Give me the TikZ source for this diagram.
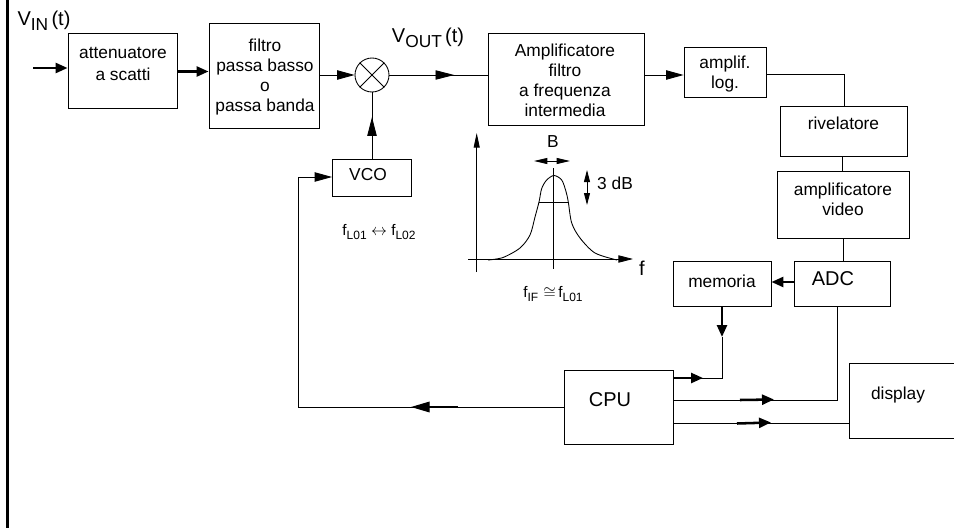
\documentclass[tikz,border=0pt]{standalone}
\usepackage{fontspec}
\setmainfont{Liberation Sans}
\usetikzlibrary{calc,positioning,arrows.meta,shapes,decorations.markings}
\newcommand{\biglabel}[2]{#1\raisebox{-.45ex}{\fontsize{13pt}{13pt}\selectfont #2}\,(t)}
\newcommand{\freqlabel}[1]{f\raisebox{-.4ex}{\fontsize{9pt}{9pt}\selectfont #1}}
\tikzset{
        blockbox/.style 2 args={draw=black, line width=0.65pt, inner sep=0pt,
                minimum width=#1*0.75pt, minimum height=#2*0.75pt},
        textlabel/.style={inner sep=0pt, align=center, font=\fontsize{13pt}{15pt}\selectfont},
        widelabel/.style={inner sep=0pt, align=center, font=\fontsize{13pt}{16pt}\selectfont},
        biglabeltext/.style={inner sep=0pt, font=\fontsize{15pt}{15pt}\selectfont},
        smalllabel/.style={inner sep=0pt, font=\fontsize{11.5pt}{12pt}\selectfont},
        thinline/.style={line width=0.65pt},
        thickline/.style={line width=1.9pt},
        bigtip/.style={-{Triangle[length=13pt,width=7pt]}},
        smalltip/.style={-{Triangle[length=9pt,width=7.5pt]}},
        midtip/.style={postaction={decorate}, decoration={markings,
                mark=at position #1 with {\arrow{Triangle[length=14pt,width=7pt]}}}}
}
\begin{document}
\begin{tikzpicture}[x=0.75pt, y=-0.75pt]
        \useasboundingbox (0,0) rectangle (954,528);
        \draw[line width=2pt] (7.5,0) -- (7.5,528);

        \node[blockbox={109}{75}] (atten) at (122.5,70.5) {};
        \node[widelabel] (attentext) at (123,64) {attenuatore\\a scatti};
        \node[blockbox={110}{105}] (filtro) at (264,75.5) {};
        \node[textlabel] (filtrotext) at (265,77) {filtro\\passa basso\\o\\passa banda};
        \node[draw=black, line width=0.65pt, circle, minimum size=25.5pt, inner sep=0pt] (mixer) at (372,75) {};
        \draw[thinline] (mixer.north west) -- (mixer.south east);
        \draw[thinline] (mixer.north east) -- (mixer.south west);
        \node[blockbox={79}{37}] (vco) at (372,178) {};
        \node[textlabel] (vcotext) at (368,175) {VCO};
        \node[blockbox={156}{92}] (amp) at (566,79) {};
        \node[textlabel] (amptext) at (565,80.5) {Amplificatore\\filtro\\a frequenza\\intermedia};
        \node[blockbox={82}{50}] (logamp) at (725,72.5) {};
        \node[textlabel] (logtext) at (725,74.5) {amplif.\\log.};
        \node[blockbox={127}{50}] (riv) at (843.5,131.5) {};
        \node[textlabel] (rivtext) at (843.5,123) {rivelatore};
        \node[blockbox={132}{67}] (video) at (843,204.5) {};
        \node[textlabel] (videotext) at (843,199) {amplificatore\\video};
        \node[blockbox={96}{45}] (adc) at (842,284) {};
        \node[biglabeltext] (adctext) at (833,279) {ADC};
        \node[blockbox={98}{45}] (memoria) at (722,284) {};
        \node[textlabel] (memtext) at (722,281) {memoria};
        \node[blockbox={109}{74}] (cpu) at (618.5,407) {};
        \node[biglabeltext] (cputext) at (610,400) {CPU};
        \node[blockbox={125}{75}] (disp) at (911.5,400.5) {};
        \node[textlabel] (disptext) at (898,395) {display};

        \node[biglabeltext] (vin) at (44,21) {\biglabel{V}{IN}};
        \node[biglabeltext] (vout) at (428,38) {\biglabel{V}{OUT}};
        \node[smalllabel] (flo) at (379,232) {\freqlabel{L01} $\leftrightarrow$ \freqlabel{L02}};
        \node[smalllabel] (fif) at (553,294) {\freqlabel{IF}\,\,$\cong$\,\freqlabel{L01}};
        \node[textlabel] (bw) at (553,142) {B};
        \node[textlabel] (db) at (615,183) {3 dB};
        \node[biglabeltext] (freq) at (642,268) {f};

        \coordinate (in) at (33,68);
        \draw[thickline, smalltip] (in) -- (in -| atten.west);
        \draw[thickline, smalltip] (atten.east |- 0,71.5) -- (filtro.west |- 0,71.5);
        \draw[thinline, bigtip] (filtro.east |- mixer) -- (mixer.west);
        \draw[thinline, midtip=0.66] (mixer.east) -- (amp.west |- mixer);
        \draw[thinline, midtip=0.63] (vco.north -| mixer) -- (mixer.south);
        \draw[thinline, bigtip] (amp.east |- 0,75) -- (logamp.west |- 0,75);
        \draw[thinline] (logamp.east |- 0,74) -- (844,74) -- (844,106.5);
        \draw[thinline] (riv.south -| 842.5,0) -- (video.north -| 842.5,0);
        \draw[thinline] (video.south -| 843.5,0) -- (adc.north -| 843.5,0);
        \draw[thickline, smalltip] (adc.west |- 0,282) -- (memoria.east |- 0,282);

        \coordinate (memjoin) at (722,378);
        \draw[thickline, smalltip] (memoria.south) -- (722,337);
        \draw[thinline] (722,337) -- (memjoin) -- (cpu.east |- memjoin);
        \draw[thickline, smalltip] (cpu.east |- memjoin) -- (703,378);

        \coordinate (adcjoin) at (837,400);
        \draw[thinline] (adc.south -| adcjoin) -- (adcjoin) -- (cpu.east |- adcjoin);
        \draw[thickline, smalltip] (740,400) -- (774,399.5);

        \draw[thinline] (cpu.east |- 0,423) -- (disp.west |- 0,423);
        \draw[thickline, smalltip] (737,423.5) -- (771,422.5);

        \coordinate (feedback) at (298,407);
        \coordinate (feedtop) at (298,177);
        \draw[thinline] (cpu.west) -- (feedback) -- (feedtop);
        \draw[thinline, bigtip] (feedtop) -- (feedtop -| vco.west);
        \draw[line width=1pt, -{Triangle[length=14pt,width=8pt]}] (458,407) -- (411,407);

        % passband sketch
        \coordinate (ybot) at (476.7,272);
        \coordinate (ytop) at (476.7,133);
        \coordinate (xleft) at (468,259);
        \coordinate (xright) at (633,259);
        \draw[thinline, -{Triangle[length=11pt,width=4.5pt]}] (ybot) -- (ytop);
        \draw[thinline, -{Triangle[length=11pt,width=5.5pt]}] (xleft) -- (xright);
        \draw[thinline] (553,168) -- (553,269);
        \draw[thinline] plot[smooth, tension=0.5] coordinates {(488,260) (503,257.5) (520,248) (530,235) (535,217) (539,202) (541.7,188.5) (546.7,180) (554,175.5) (561.7,180) (566,191.5) (568.3,202) (571.7,223) (580,238) (595,253) (617,260)};
        \draw[thinline] (539,202) -- (568,202);
        \draw[thinline, {Triangle[length=10pt,width=4.5pt]}-{Triangle[length=10pt,width=4.5pt]}] (534,161) -- (570,161);
        \draw[thinline, {Triangle[length=9pt,width=4.5pt]}-{Triangle[length=9pt,width=4.5pt]}] (587,170) -- (587,205);
\end{tikzpicture}
\end{document}
